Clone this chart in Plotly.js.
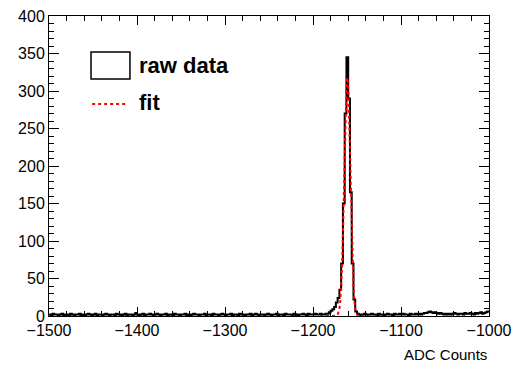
<!DOCTYPE html>
<html>
<head>
<meta charset="utf-8">
<script src="https://cdn.plot.ly/plotly-3.0.1.min.js"></script>
<style>html,body{margin:0;padding:0;background:#fff;}</style>
</head>
<body>
<div id="chart" style="width:512px;height:368px;"></div>
<script>
// Histogram: bins of width 2 ADC counts from -1500 to -1000
const binLow = -1500;
const binWidth = 2;
const rawCounts = [
  2,1,3,2,2,1,2,3,1,2,2,1,3,2,1,2,2,3,1,2,1,2,3,2,1,
  2,3,1,2,2,1,2,3,2,1,2,2,1,3,2,2,1,2,3,1,2,2,1,2,4,
  2,1,2,3,1,2,2,3,2,1,2,3,2,1,2,2,3,1,2,2,1,3,2,2,1,
  2,2,3,1,2,1,2,3,2,2,1,2,2,3,1,2,2,1,3,2,2,1,2,3,2,
  1,2,2,3,1,2,2,1,3,2,2,1,2,2,3,1,2,3,2,1,2,2,1,2,3,
  2,1,2,2,3,1,2,2,1,3,2,2,2,1,3,2,1,2,2,3,2,1,3,2,2,
  2,3,2,2,3,2,2,3,3,5,7,9,12,18,24,35,70,150,270,345,290,165,70,22,6,
  3,2,1,2,3,2,1,2,3,2,2,1,3,2,2,1,2,3,2,2,1,3,2,2,3,
  2,3,2,2,1,3,2,2,3,2,3,2,3,4,4,5,6,5,4,5,4,3,4,3,2,
  3,2,3,2,3,4,3,2,3,3,2,4,3,3,4,3,2,4,3,4,5,3,4,5,6
];
// Gaussian fit curve
const fitX = [-1192,-1188,-1184,-1180,-1176,-1174,-1172,-1170,-1169,-1168,-1167,-1166,-1165,-1164,-1163,-1162,-1161,
  -1160,-1159,-1158,-1157,-1156,-1155,-1154,-1153,-1152,-1150,-1148,-1146,-1142,-1136,-1130,-1124,-1118];
const fitY = [0,0,0,0,0,0.2,1.7,9.6,20,38,67,108,159,215,267,305,318,
  305,267,215,159,108,67,38,20,9.6,1.7,0.2,0,0,0,0,0,0];
const legendLabels = ["raw data", "fit"];
const xTitle = "ADC Counts";

// step outline of the histogram
const histX = [], histY = [];
for (let i = 0; i < rawCounts.length; i++) {
  histX.push(binLow + i * binWidth);
  histY.push(rawCounts[i]);
}
histX.push(binLow + rawCounts.length * binWidth);
histY.push(rawCounts[rawCounts.length - 1]);

const traces = [
  {x: histX, y: histY, type: 'scatter', mode: 'lines', line: {shape: 'hv', color: '#000', width: 2}, name: legendLabels[0], hoverinfo: 'skip'},
  {x: fitX, y: fitY, type: 'scatter', mode: 'lines', line: {color: '#ff0000', width: 2, dash: 'dot'}, name: legendLabels[1], hoverinfo: 'skip'}
];

const font = 'Liberation Sans, Arial, Helvetica, sans-serif';
const layout = {
  width: 512, height: 368,
  margin: {l: 49, r: 23, t: 16, b: 52},
  paper_bgcolor: '#fff', plot_bgcolor: '#fff',
  showlegend: false,
  font: {family: font, color: '#000', size: 16},
  xaxis: {
    range: [-1500, -1000], showgrid: false, zeroline: false,
    showline: true, linecolor: '#000', linewidth: 1, mirror: 'ticks',
    ticks: 'inside', ticklen: 9, tickcolor: '#000', dtick: 100, tick0: -1500,
    minor: {ticks: 'inside', dtick: 20, ticklen: 5, tickcolor: '#000', showgrid: false},
    tickfont: {family: font, size: 16, color: '#000'}
  },
  yaxis: {
    range: [0, 400], showgrid: false, zeroline: false,
    showline: true, linecolor: '#000', linewidth: 1, mirror: 'ticks',
    ticks: 'inside', ticklen: 10, tickcolor: '#000', dtick: 50, tick0: 0,
    minor: {ticks: 'inside', dtick: 10, ticklen: 5, tickcolor: '#000', showgrid: false},
    tickfont: {family: font, size: 16, color: '#000'}
  },
  shapes: [
    {type: 'rect', xref: 'paper', yref: 'paper', x0: 0.0955, x1: 0.184, y0: 0.79, y1: 0.88, line: {color: '#000', width: 1.5}, fillcolor: 'rgba(0,0,0,0)'},
    {type: 'line', xref: 'paper', yref: 'paper', x0: 0.098, x1: 0.18, y0: 0.707, y1: 0.707, line: {color: '#ff0000', width: 2, dash: 'dot'}}
  ],
  annotations: [
    {xref: 'paper', yref: 'paper', x: 0.2, y: 0.835, xanchor: 'left', yanchor: 'middle', text: '<b>' + legendLabels[0] + '</b>', showarrow: false, font: {family: font, size: 22, color: '#000'}},
    {xref: 'paper', yref: 'paper', x: 0.2, y: 0.713, xanchor: 'left', yanchor: 'middle', text: '<b>' + legendLabels[1] + '</b>', showarrow: false, font: {family: font, size: 22, color: '#000'}},
    {xref: 'paper', yref: 'paper', x: 1, y: -0.13, xanchor: 'right', yanchor: 'middle', text: xTitle, showarrow: false, font: {family: font, size: 15, color: '#000'}}
  ]
};
Plotly.newPlot('chart', traces, layout, {displayModeBar: false, staticPlot: true});
</script>
</body>
</html>
